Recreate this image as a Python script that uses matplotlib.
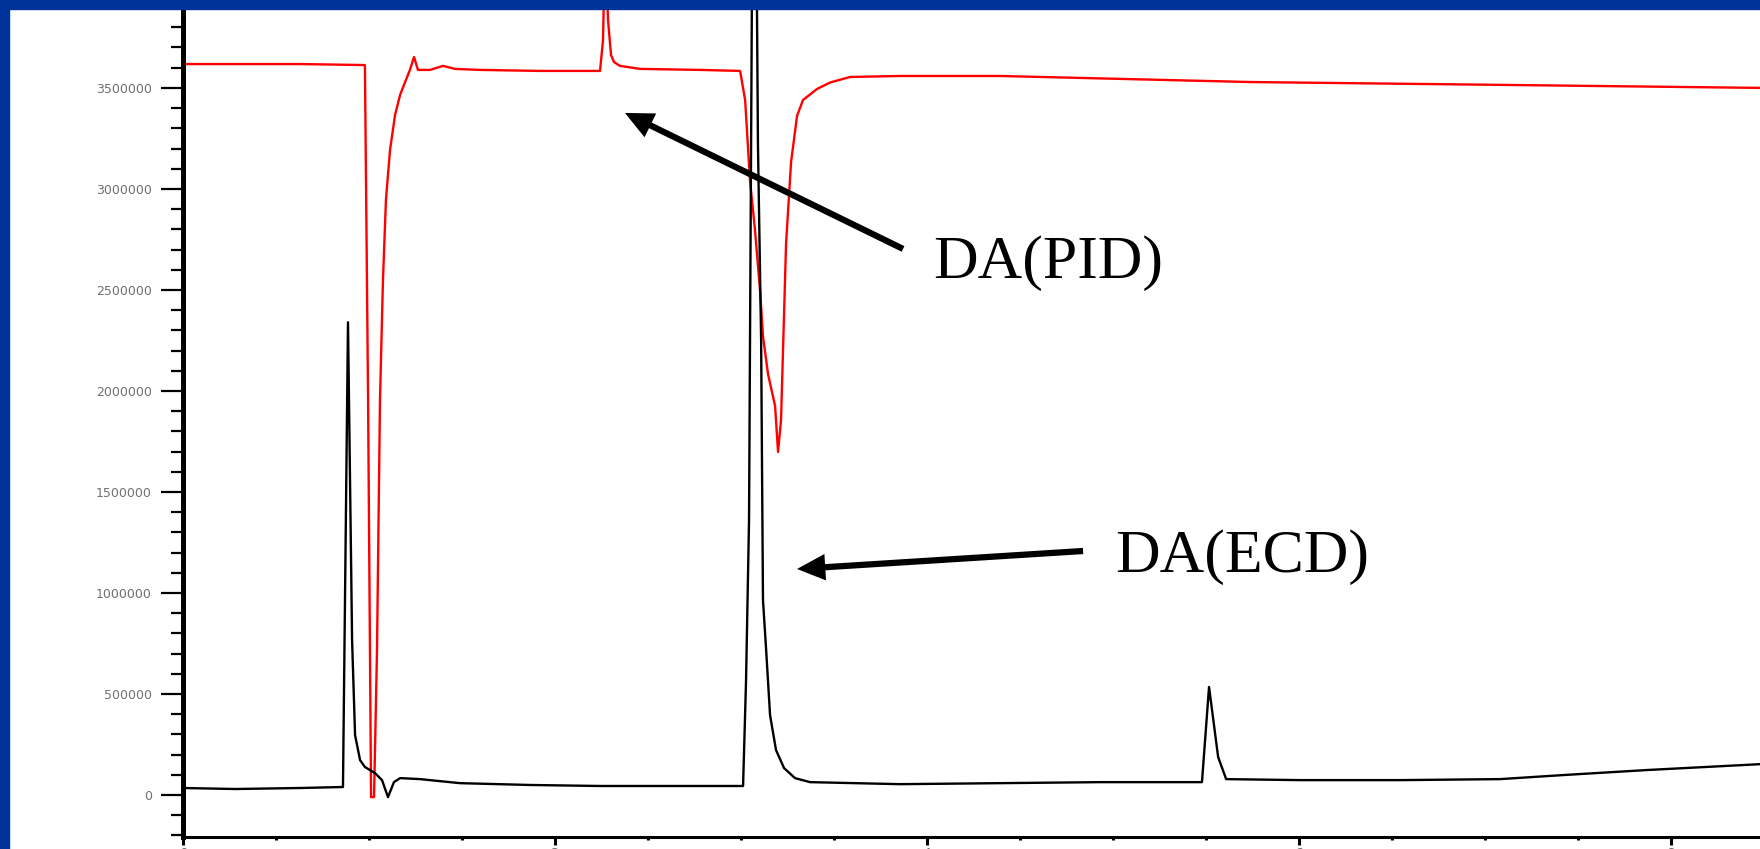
import matplotlib.pyplot as plt
from matplotlib.patches import Rectangle
from matplotlib.ticker import MultipleLocator

# ECD trace: retention time (min) and detector response
ecd_time = [0.00, 0.28, 0.63, 0.86, 0.887, 0.909, 0.925, 0.952, 0.978, 1.032,
            1.07, 1.102, 1.134, 1.167, 1.274, 1.489, 1.866, 2.242, 2.78, 3.011,
            3.027, 3.043, 3.07, 3.091, 3.108, 3.118, 3.134, 3.156, 3.188, 3.231,
            3.29, 3.371, 3.855, 4.392, 4.93, 5.468, 5.478, 5.516, 5.565, 5.608,
            6.005, 6.543, 7.081, 7.419, 7.871, 8.478]
ecd_signal = [35000, 30000, 35000, 40000, 2340000, 767000, 297000, 173000, 139000, 109000,
              74000, -10000, 64000, 84000, 79000, 59000, 50000, 45000, 45000, 45000,
              569000, 1361000, 5900000, 3218000, 2252000, 965000, 733000, 396000, 223000, 134000,
              84000, 64000, 54000, 59000, 64000, 64000, 64000, 535000, 188000, 79000,
              74000, 74000, 79000, 99000, 124000, 153000]

# PID trace
pid_time = [0.00, 0.629, 0.978, 0.995, 1.011, 1.027, 1.043, 1.059, 1.075, 1.091,
            1.113, 1.14, 1.167, 1.194, 1.22, 1.242, 1.263, 1.328, 1.398, 1.462,
            1.597, 1.919, 2.242, 2.258, 2.269, 2.285, 2.301, 2.317, 2.349, 2.457,
            2.78, 2.995, 3.022, 3.048, 3.075, 3.102, 3.118, 3.145, 3.183, 3.199,
            3.215, 3.242, 3.269, 3.301, 3.333, 3.409, 3.48, 3.586, 3.855, 4.392,
            5.737, 7.081, 8.478]
pid_signal = [3618000, 3618000, 3613000, 1955000, -10000, -10000, 718000, 1955000, 2549000, 2945000,
              3193000, 3366000, 3465000, 3529000, 3589000, 3653000, 3589000, 3589000, 3609000, 3594000,
              3589000, 3584000, 3584000, 3737000, 4232000, 3836000, 3663000, 3628000, 3609000, 3594000,
              3589000, 3584000, 3440000, 3044000, 2797000, 2500000, 2272000, 2084000, 1926000, 1698000,
              1856000, 2727000, 3133000, 3361000, 3440000, 3495000, 3527000, 3554000, 3559000, 3559000,
              3529000, 3515000, 3500000]

y_ticks = [0, 500000, 1000000, 1500000, 2000000, 2500000, 3000000, 3500000]
y_tick_labels = [str(v) for v in y_ticks]
x_ticks = [0, 2, 4, 6, 8]

W, H = 1760, 849
fig = plt.figure(figsize=(W / 100, H / 100), dpi=100)
fig.patch.set_facecolor('white')

ax = fig.add_axes([183 / W, (H - 836.5) / H, (W - 183) / W, 836.5 / H])
ax.plot(pid_time, pid_signal, color='#ff0000', lw=1.7, zorder=2)
ax.plot(ecd_time, ecd_signal, color='black', lw=1.7, zorder=3)

ax.set_xlim(0, 8.478)
ax.set_ylim(-205000, 3935000)

for side in ['top', 'right']:
    ax.spines[side].set_visible(False)
ax.spines['left'].set_linewidth(3.6)
ax.spines['bottom'].set_linewidth(2.2)

ax.set_yticks(y_ticks)
ax.set_yticklabels(y_tick_labels)
ax.yaxis.set_minor_locator(MultipleLocator(100000))
ax.set_xticks(x_ticks)
ax.xaxis.set_minor_locator(MultipleLocator(0.5))

ax.tick_params(axis='y', which='major', direction='out', length=16, width=1.6,
               pad=6.5, labelsize=9, labelcolor='#707070')
ax.tick_params(axis='y', which='minor', direction='out', length=8.6, width=1.6)
ax.tick_params(axis='x', which='major', direction='out', length=6, width=2.2,
               pad=1.5, labelsize=10, labelcolor='#707070')
ax.tick_params(axis='x', which='minor', direction='out', length=2.2, width=2.2)

# peak labels
arrow = dict(arrowstyle='-|>,head_length=0.32,head_width=0.15', lw=4.5,
             color='black', shrinkA=0, shrinkB=0, mutation_scale=40,
             joinstyle='miter', capstyle='butt')
ax.annotate('', xy=(2.376, 3376000), xytext=(3.871, 2703000), arrowprops=arrow, zorder=5)
ax.annotate('', xy=(3.301, 1119000), xytext=(4.839, 1208000), arrowprops=arrow, zorder=5)
ax.text(4.032, 2559000, 'DA(PID)', family='Liberation Serif', fontsize=44.5,
        ha='left', va='baseline')
ax.text(5.011, 1104000, 'DA(ECD)', family='Liberation Serif', fontsize=44.5,
        ha='left', va='baseline')

# slide frame on the left and top edges
blue = '#003399'
fig.add_artist(Rectangle((0, 0), 9 / W, 1, transform=fig.transFigure,
                         color=blue, zorder=10))
fig.add_artist(Rectangle((0, 1 - 9 / H), 1, 9 / H, transform=fig.transFigure,
                         color=blue, zorder=10))

fig.savefig('out.png', dpi=100, facecolor='white')
